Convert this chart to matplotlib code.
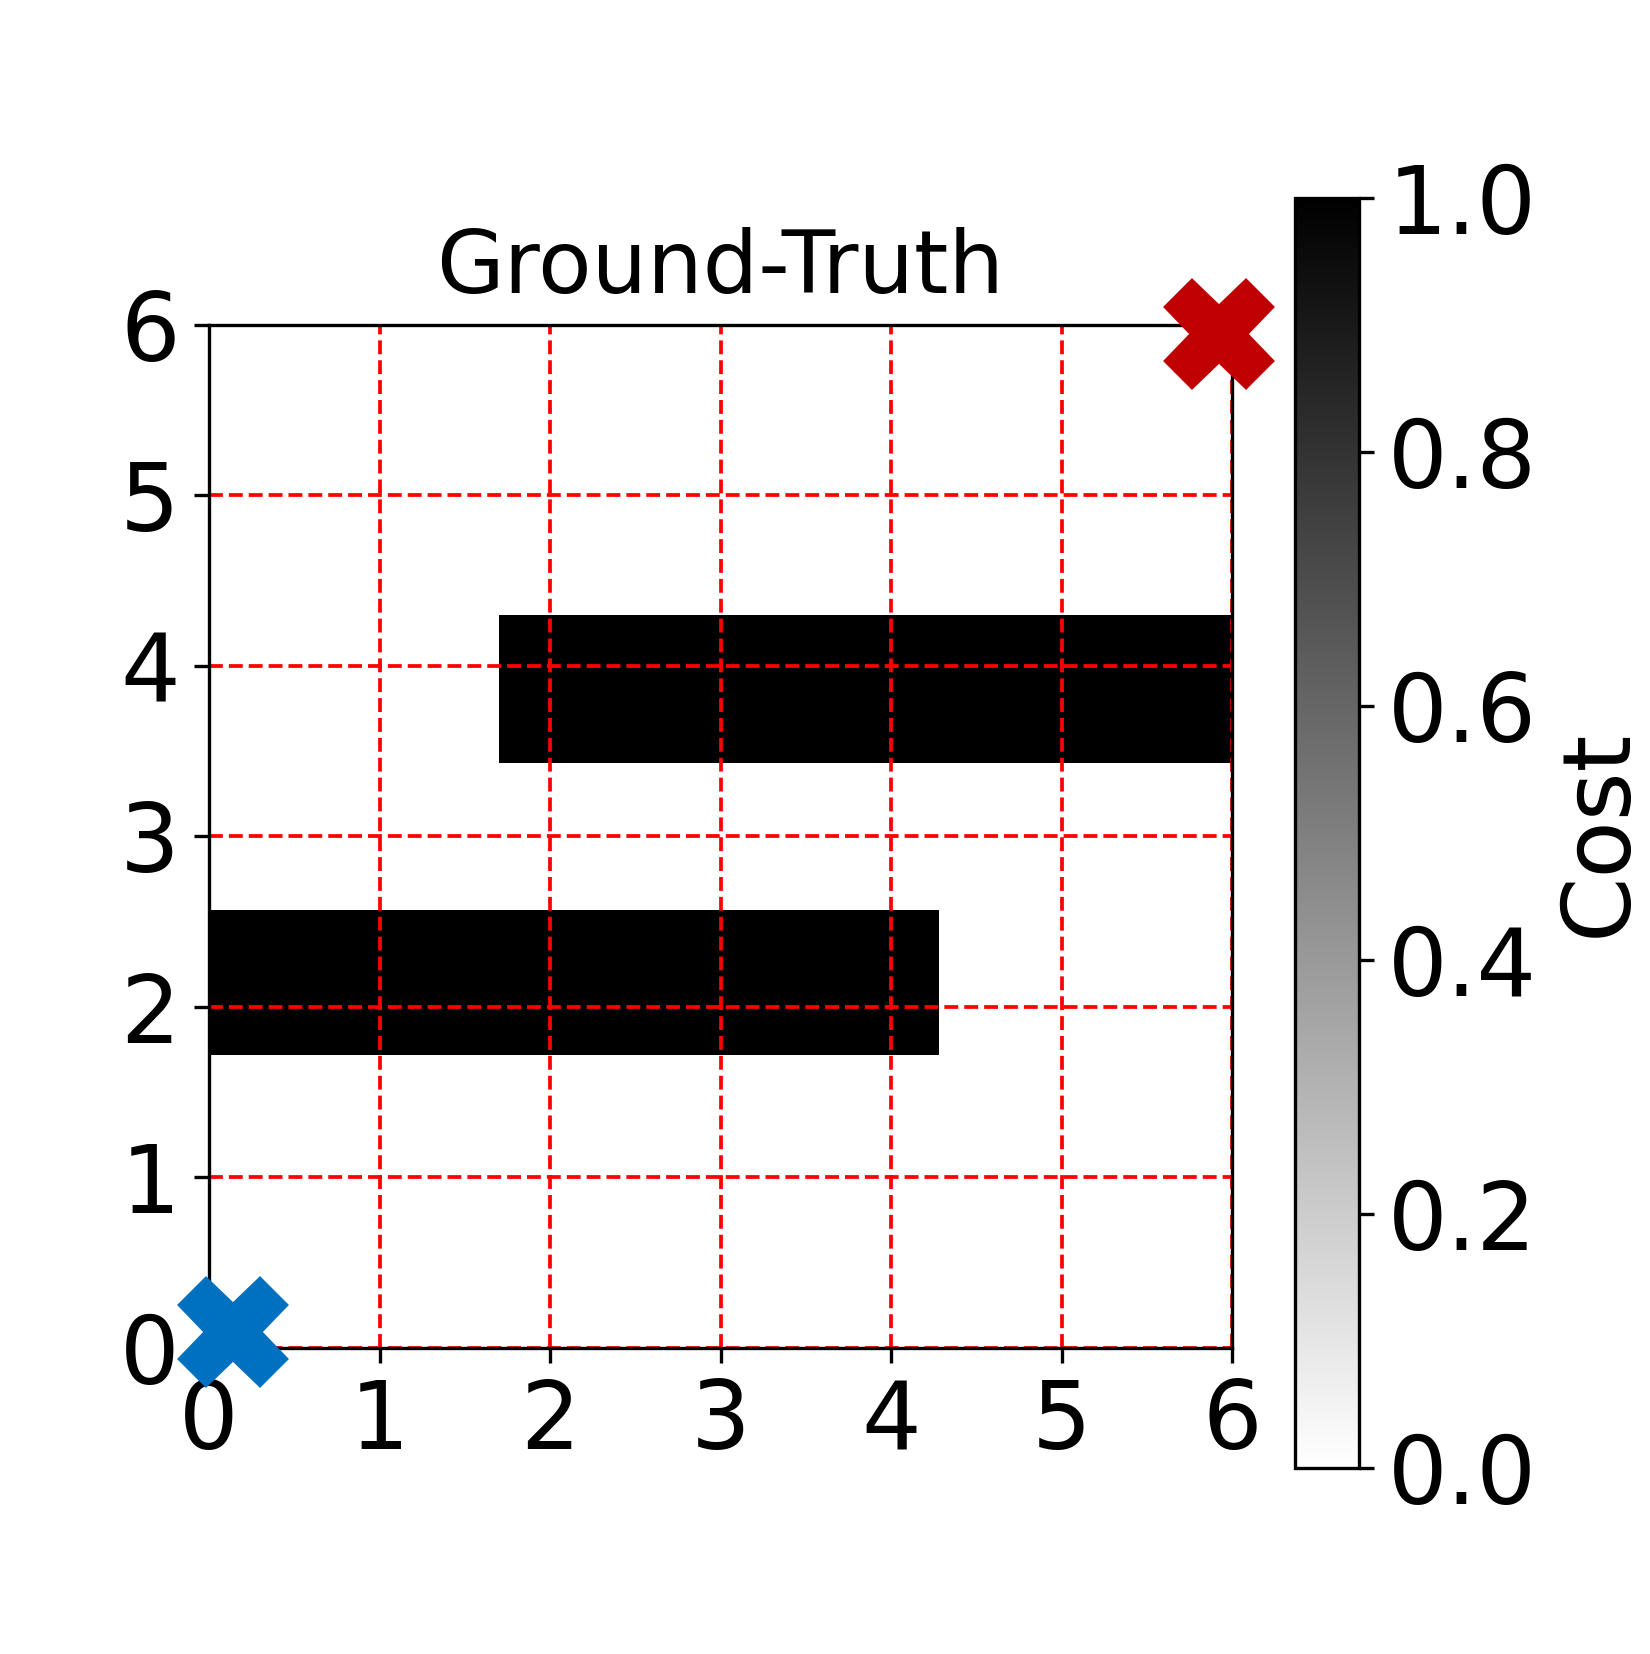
import matplotlib

matplotlib.use("Agg")
import matplotlib.pyplot as plt
import numpy as np

# obstacle rectangles of the ground-truth cost map (map units)
obs_x0 = [1.70, 0.00]
obs_x1 = [6.00, 4.28]
obs_y0 = [3.43, 1.72]
obs_y1 = [4.30, 2.57]
obs_cost = [1.0, 1.0]

map_size = 6.0
start = (0.14, 0.09)
goal = (5.925, 5.945)

ticks = [0, 1, 2, 3, 4, 5, 6]
cbar_ticks = [0.0, 0.2, 0.4, 0.6, 0.8, 1.0]

plt.rcParams["font.size"] = 22.5

# rasterise the obstacles onto a fine grid
res = 0.01
n = int(round(map_size / res))
centers = (np.arange(n) + 0.5) * res
gx, gy = np.meshgrid(centers, centers)
cost = np.zeros((n, n))
for x0, x1, y0, y1, c in zip(obs_x0, obs_x1, obs_y0, obs_y1, obs_cost):
    cost[(gx >= x0) & (gx <= x1) & (gy >= y0) & (gy <= y1)] = c

fig = plt.figure(figsize=(1650 / 300, 1654 / 300), dpi=300)
ax = fig.add_axes([0.1267, 0.1851, 0.6200, 0.6185])
cax = fig.add_axes([0.7850, 0.1125, 0.0385, 0.7678])

im = ax.imshow(cost, cmap="gray_r", vmin=0, vmax=1, origin="lower",
               extent=[0, map_size, 0, map_size], interpolation="nearest")
ax.grid(True, color="red", linestyle="--", linewidth=0.9)
ax.set_xticks(ticks)
ax.set_yticks(ticks)
ax.set_xlim(0, map_size)
ax.set_ylim(0, map_size)
ax.set_title("Ground-Truth", fontsize=21, pad=7.7)

ax.plot(*start, marker="X", color="#0070C0", markersize=25.5, linestyle="none",
        clip_on=False, zorder=5)
ax.plot(*goal, marker="X", color="#C00000", markersize=25.5, linestyle="none",
        clip_on=False, zorder=5)

cb = fig.colorbar(im, cax=cax, ticks=cbar_ticks)
cb.set_label("Cost")

fig.savefig("out.png", dpi=300)
plt.close(fig)
